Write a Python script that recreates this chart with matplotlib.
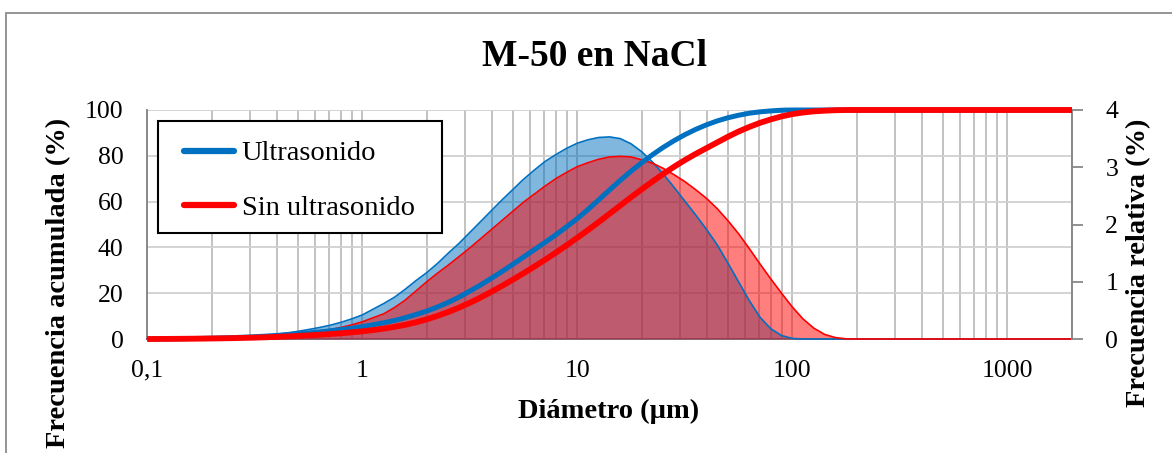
import matplotlib
matplotlib.use("Agg")
import matplotlib.pyplot as plt
from matplotlib.ticker import FixedLocator, FixedFormatter, NullFormatter
from matplotlib.patches import Rectangle

# Particle size distribution of M-50 dispersed in NaCl (µm)
diametro = [0.1, 0.112, 0.126, 0.141, 0.158, 0.178, 0.2, 0.224, 0.251, 0.282,
            0.316, 0.355, 0.398, 0.447, 0.501, 0.562, 0.631, 0.708, 0.794, 0.891,
            1.0, 1.122, 1.259, 1.413, 1.585, 1.778, 1.995, 2.239, 2.512, 2.818,
            3.162, 3.548, 3.981, 4.467, 5.012, 5.623, 6.31, 7.079, 7.943, 8.913,
            10.0, 11.22, 12.59, 14.13, 15.85, 17.78, 19.95, 22.39, 25.12, 28.18,
            31.62, 35.48, 39.81, 44.67, 50.12, 56.23, 63.10, 70.79, 79.43, 89.13,
            100, 112.2, 125.9, 141.3, 158.5, 177.8, 199.5,
            251, 316, 398, 501, 631, 794, 1000, 1259, 1585, 2000]

# relative frequency (%), right axis
rel_ultra = [0.002, 0.003, 0.004, 0.006, 0.009, 0.012, 0.016, 0.022, 0.029, 0.038,
             0.05, 0.065, 0.083, 0.106, 0.133, 0.165, 0.20, 0.24, 0.29, 0.35,
             0.42, 0.52, 0.62, 0.73, 0.87, 1.02, 1.16, 1.32, 1.50, 1.67,
             1.86, 2.05, 2.24, 2.43, 2.61, 2.79, 2.95, 3.10, 3.22, 3.33,
             3.42, 3.48, 3.52, 3.53, 3.50, 3.41, 3.27, 3.09, 2.88, 2.65,
             2.41, 2.17, 1.92, 1.65, 1.33, 1.00, 0.67, 0.38, 0.18, 0.06,
             0.01, 0, 0, 0, 0, 0, 0,
             0, 0, 0, 0, 0, 0, 0, 0, 0, 0]
rel_sin = [0.001, 0.002, 0.003, 0.004, 0.006, 0.009, 0.012, 0.017, 0.023, 0.03,
           0.04, 0.05, 0.065, 0.08, 0.095, 0.115, 0.14, 0.165, 0.20, 0.245,
           0.30, 0.37, 0.44, 0.55, 0.68, 0.84, 1.00, 1.15, 1.29, 1.44,
           1.59, 1.75, 1.91, 2.07, 2.23, 2.39, 2.53, 2.67, 2.80, 2.91,
           3.01, 3.08, 3.14, 3.18, 3.19, 3.18, 3.13, 3.07, 2.98, 2.87,
           2.75, 2.61, 2.46, 2.28, 2.07, 1.84, 1.58, 1.31, 1.05, 0.80,
           0.56, 0.35, 0.19, 0.08, 0.025, 0.003, 0,
           0, 0, 0, 0, 0, 0, 0, 0, 0, 0]

# cumulative frequency (%), left axis
acum_ultra = [0, 0.03, 0.07, 0.12, 0.18, 0.26, 0.36, 0.48, 0.62, 0.8,
              1.0, 1.25, 1.55, 1.85, 2.2, 2.6, 3.05, 3.55, 4.1, 4.7,
              5.4, 6.2, 7.1, 8.1, 9.3, 10.7, 12.2, 14.0, 16.0, 18.3,
              20.9, 23.6, 26.5, 29.5, 32.6, 35.8, 39.0, 42.2, 45.5, 49.0,
              52.6, 56.6, 60.8, 65.1, 69.3, 73.3, 77.0, 80.5, 83.7, 86.6,
              89.2, 91.5, 93.5, 95.2, 96.6, 97.7, 98.6, 99.2, 99.6, 99.9,
              100, 100, 100, 100, 100, 100, 100,
              100, 100, 100, 100, 100, 100, 100, 100, 100, 100]
acum_sin = [0, 0.02, 0.05, 0.08, 0.12, 0.17, 0.23, 0.3, 0.38, 0.48,
            0.6, 0.75, 0.92, 1.12, 1.34, 1.58, 1.85, 2.15, 2.5, 2.9,
            3.35, 3.9, 4.55, 5.3, 6.2, 7.3, 8.6, 10.1, 11.8, 13.7,
            15.8, 18.1, 20.6, 23.2, 25.9, 28.7, 31.6, 34.6, 37.7, 40.9,
            44.2, 47.6, 51.1, 54.7, 58.3, 61.9, 65.4, 68.8, 72.1, 75.2,
            78.1, 80.8, 83.3, 85.8, 88.3, 90.6, 92.6, 94.4, 95.9, 97.2,
            98.2, 98.9, 99.4, 99.7, 99.9, 100, 100,
            100, 100, 100, 100, 100, 100, 100, 100, 100, 100]

series_names = ["Ultrasonido", "Sin ultrasonido"]
x_ticks = [0.1, 1, 10, 100, 1000]
x_tick_labels = ["0,1", "1", "10", "100", "1000"]
x_minor = [k * 10.0 ** e for e in range(-1, 4) for k in range(2, 10) if k * 10.0 ** e <= 2000]
y_left_ticks = [0, 20, 40, 60, 80, 100]
y_right_ticks = [0, 1, 2, 3, 4]

AZUL = "#0070C0"
ROJO = "#FF0000"
GRIS = "#888888"

plt.rcParams['font.family'] = ['Liberation Serif', 'DejaVu Serif']

W, H = 1172, 453
fig = plt.figure(figsize=(W / 100, H / 100), dpi=100)

# plot area in pixels
x0, x1, y_top, y_bot = 147.3, 1072.0, 110.0, 339.0
ax = fig.add_axes([x0 / W, 1 - y_bot / H, (x1 - x0) / W, (y_bot - y_top) / H])

def ax_frac(px, py):
    return (px - x0) / (x1 - x0), (y_bot - py) / (y_bot - y_top)

ax.set_xscale('log')
ax.set_xlim(0.1, 2000)
ax.set_ylim(0, 100)
ax.xaxis.set_major_locator(FixedLocator(x_ticks))
ax.xaxis.set_major_formatter(FixedFormatter(x_tick_labels))
ax.xaxis.set_minor_locator(FixedLocator(x_minor))
ax.xaxis.set_minor_formatter(NullFormatter())
ax.yaxis.set_major_locator(FixedLocator(y_left_ticks))
ax.tick_params(axis='x', which='both', length=0, pad=15, labelsize=18.5)
ax.tick_params(axis='y', which='both', length=0, pad=17, labelsize=18.5)
ax.grid(True, which='major', axis='y', color='#d0d0d0', lw=1.3)
ax.grid(True, which='both', axis='x', color='#bdbdbd', lw=1.3)
ax.set_axisbelow(True)
for s in ('top', 'right'):
    ax.spines[s].set_visible(False)
for s in ('left', 'bottom'):
    ax.spines[s].set_color(GRIS)
    ax.spines[s].set_linewidth(1.4)

ax.set_xlabel("Diámetro (µm)", fontsize=20.5, fontweight='bold', va='center')
ax.xaxis.set_label_coords(*ax_frac(609, 411))
ax.set_ylabel("Frecuencia acumulada (%)", fontsize=20.5, fontweight='bold', va='center')
ax.yaxis.set_label_coords(*ax_frac(58.5, 283))

# relative distributions on the secondary axis
ax2 = ax.twinx()
ax2.set_ylim(0, 4)
ax2.yaxis.set_major_locator(FixedLocator(y_right_ticks))
ax2.tick_params(axis='y', length=8, width=1.3, color=GRIS, pad=16, labelsize=18.5)
for s in ('top', 'left', 'bottom'):
    ax2.spines[s].set_visible(False)
ax2.spines['right'].set_color(GRIS)
ax2.spines['right'].set_linewidth(1.4)
ax2.fill_between(diametro, rel_ultra, 0, color=AZUL, alpha=0.5, lw=0)
ax2.plot(diametro, rel_ultra, color=AZUL, lw=1.2, clip_on=False)
ax2.fill_between(diametro, rel_sin, 0, color=ROJO, alpha=0.5, lw=0)
ax2.plot(diametro, rel_sin, color=ROJO, lw=1.2, clip_on=False)
ax2.set_ylabel("Frecuencia relativa (%)", fontsize=20.5, fontweight='bold', va='center')
ax2.yaxis.set_label_coords(*ax_frac(1139, 263))

# cumulative curves on top
ax3 = ax.twinx()
ax3.set_ylim(0, 100)
ax3.axis('off')
l1, = ax3.plot(diametro, acum_ultra, color=AZUL, lw=3.6, clip_on=False,
               solid_capstyle='butt')
l2, = ax3.plot(diametro, acum_sin, color=ROJO, lw=4.2, clip_on=False,
               solid_capstyle='butt')

# legend box
lx0, ly0 = ax_frac(158, 233)
lx1, ly1 = ax_frac(442, 121)
ax3.add_patch(Rectangle((lx0, ly0), lx1 - lx0, ly1 - ly0, transform=ax3.transAxes,
                        facecolor='white', edgecolor='black', lw=1.5, zorder=4.5))
leg = ax3.legend([l1, l2], series_names, loc='center left',
                 bbox_to_anchor=ax_frac(184, 181), fontsize=20.5,
                 frameon=False, borderpad=0, labelspacing=1.02,
                 handlelength=1.75, handletextpad=0.28, borderaxespad=0)
for h in leg.legend_handles:
    h.set_linewidth(4.5)
    h.set_solid_capstyle('round')

fig.text(595 / W, 1 - 57 / H, "M-50 en NaCl", ha='center', va='center',
         fontsize=27, fontweight='bold')

# chart frame
fig.patches.append(Rectangle((6 / W, -0.1), 1.2, 1 - 13 / H + 0.1,
                             transform=fig.transFigure, fill=False,
                             edgecolor='#8c8c8c', lw=1.3))

fig.savefig("out.png", dpi=100)
